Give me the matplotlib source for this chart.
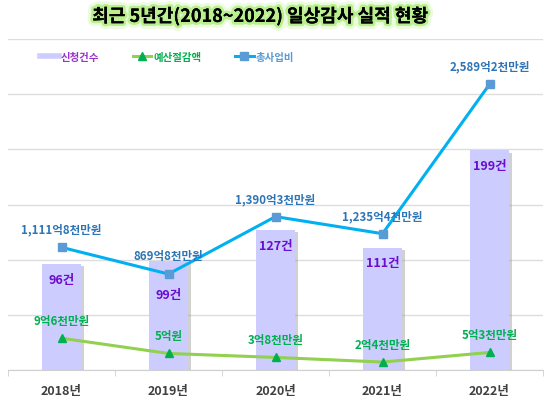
import matplotlib
matplotlib.use('Agg')
import matplotlib.pyplot as plt
from matplotlib import patheffects as pe
from matplotlib.lines import Line2D

plt.rcParams['font.family'] = ['Noto Sans CJK KR', 'DejaVu Sans']

# data
years = ['2018년', '2019년', '2020년', '2021년', '2022년']
counts = [96, 99, 127, 111, 199]
count_labels = ['96건', '99건', '127건', '111건', '199건']
budget = [1111.8, 869.8, 1390.3, 1235.4, 2589.2]  # 총사업비 (억원)
budget_labels = ['1,111억8천만원', '869억8천만원', '1,390억3천만원', '1,235억4천만원', '2,589억2천만원']
saving = [9.6, 5.0, 3.8, 2.4, 5.3]  # 예산절감액 (억원)
saving_labels = ['9억6천만원', '5억원', '3억8천만원', '2억4천만원', '5억3천만원']

BAR_C = '#CCCCFF'
BLUE_LINE = '#00B0F0'
BLUE_MK = '#5B9BD5'
BLUE_TXT = '#2E75B6'
GREEN_LINE = '#92D050'
GREEN_MK = '#00B050'
PURPLE = '#6A0DCC'

fig = plt.figure(figsize=(5.51, 4.02), dpi=100)
ax = fig.add_axes([8/551, 31/402, 535/551, 331/402])
x = list(range(len(years)))

# bars (primary axis 0-300)
bars = ax.bar(x, counts, width=0.37, color=BAR_C, zorder=2)
for b in bars:
    b.set_path_effects([pe.SimplePatchShadow(offset=(2, -1.5), shadow_rgbFace='#999999', alpha=0.45), pe.Normal()])
ax.set_ylim(0, 300)
ax.set_xlim(-0.5, len(years) - 0.5)
ax.set_yticks(range(0, 301, 50))
ax.yaxis.grid(True, color='#DDDDDD', lw=1)
ax.set_axisbelow(True)
ax.tick_params(axis='y', length=0, labelleft=False)
for s in ['top', 'right', 'left']:
    ax.spines[s].set_visible(False)
ax.spines['bottom'].set_color('#D0D0D0')
ax.set_xticks(x)
ax.set_xticklabels(years, fontsize=9, fontweight='bold', color='#404040')
ax.tick_params(axis='x', length=0, pad=10)
ax.set_xticks([i - 0.5 for i in range(len(years) + 1)], minor=True)
ax.tick_params(axis='x', which='minor', length=4, color='#D0D0D0')

for i, c in enumerate(counts):
    off = -24 if i == 1 else -11
    ax.annotate(count_labels[i], (i, c), xytext=(0, off), textcoords='offset points',
                ha='center', va='center', fontsize=9, fontweight='bold', color=PURPLE, zorder=5)

# 총사업비 (secondary axis 0-3000)
ax2 = ax.twinx()
ax2.set_ylim(0, 3000)
ax2.axis('off')
l_budget, = ax2.plot(x, budget, color=BLUE_LINE, lw=2.2, marker='s', ms=5.5,
                     mfc=BLUE_MK, mec=BLUE_MK, zorder=3)
for i, v in enumerate(budget):
    ax2.annotate(budget_labels[i], (i, v), xytext=(0, 13), textcoords='offset points',
                 ha='center', va='center', fontsize=8.3, fontweight='bold', color=BLUE_TXT)

# 예산절감액 (third axis 0-100)
ax3 = ax.twinx()
ax3.set_ylim(0, 100)
ax3.axis('off')
l_saving, = ax3.plot(x, saving, color=GREEN_LINE, lw=2.2, marker='^', ms=6,
                     mfc=GREEN_MK, mec=GREEN_MK, zorder=3)
for i, v in enumerate(saving):
    ax3.annotate(saving_labels[i], (i, v), xytext=(0, 13), textcoords='offset points',
                 ha='center', va='center', fontsize=8.3, fontweight='bold', color=GREEN_MK)

# legend
h_bar = Line2D([], [], color=BAR_C, lw=4)
leg = ax3.legend([h_bar, l_saving, l_budget], ['신청건수', '예산절감액', '총사업비'],
                 loc='upper left', bbox_to_anchor=(0.042, 0.99), ncol=3, frameon=False,
                 fontsize=7.5, handlelength=1.8, handletextpad=0.2, columnspacing=3.2)
for t, col in zip(leg.get_texts(), ['#9933CC', GREEN_MK, BLUE_MK]):
    t.set_color(col)
    t.set_fontweight('bold')

# title with soft green glow
fig.text(0.472, 1 - 17/402, '최근 5년간(2018~2022) 일상감사 실적 현황', ha='center', va='center',
         fontsize=13, fontweight='bold', color='black',
         path_effects=[pe.withStroke(linewidth=8, foreground='#D8F8BC', alpha=0.5),
                       pe.withStroke(linewidth=4, foreground='#A6EB6E', alpha=0.7), pe.Normal()])

fig.savefig('out.png', dpi=100)
